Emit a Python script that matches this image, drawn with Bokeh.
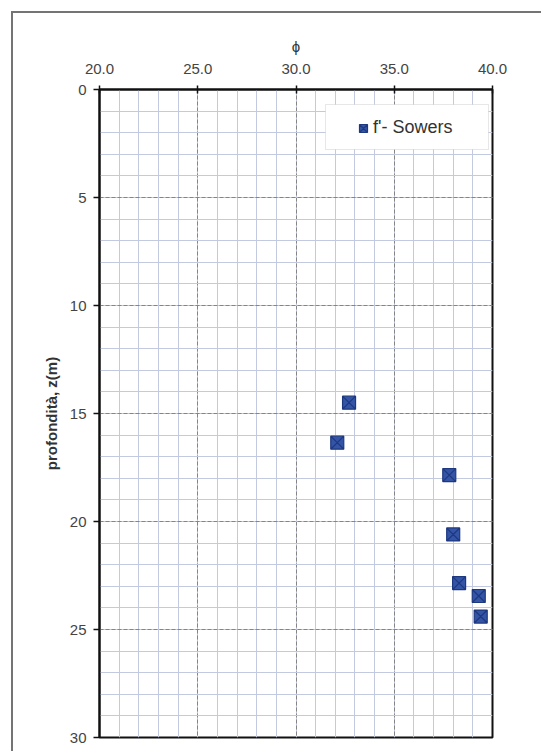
from bokeh.plotting import figure
from bokeh.models import Range1d, SingleIntervalTicker, Legend, LegendItem, NumeralTickFormatter, BoxAnnotation
from bokeh.embed import file_html
from bokeh.resources import INLINE

# data
phi = [32.7, 32.1, 37.8, 38.0, 38.3, 39.3, 39.4]
depth = [14.5, 16.35, 17.85, 20.6, 22.85, 23.45, 24.4]
series_name = "f'- Sowers"
x_label = "ϕ"
y_label = "profondità, z(m)"

FONT = "Liberation Sans"

# canvas / frame placement (canvas pixels)
W, H = 530, 740
BL, BR, BT, BB = 86, 51, 76, 16
FH = H - BT - BB

p = figure(width=W, height=H, output_backend="svg", toolbar_location=None,
           x_range=Range1d(20, 40), y_range=Range1d(30, 0),
           x_axis_location="above", min_border_left=BL, min_border_right=BR,
           min_border_top=BT, min_border_bottom=BB)
# outer frame of the chart (left and top edges visible in the reference)
p.styles = {"border-left": "2px solid #747474", "border-top": "2px solid #747474",
            "margin-left": "11px", "margin-top": "11px"}
p.background_fill_color = "white"
p.border_fill_color = "white"
p.outline_line_color = "#111111"
p.outline_line_width = 2

xt = SingleIntervalTicker(interval=5, num_minor_ticks=5)
yt = SingleIntervalTicker(interval=5, num_minor_ticks=5)
p.xaxis.ticker = xt
p.yaxis.ticker = yt
p.xgrid.ticker = xt
p.ygrid.ticker = yt
p.xaxis.formatter = NumeralTickFormatter(format="0.0")

for g in (p.xgrid, p.ygrid):
    g.grid_line_color = "#858585"
    g.grid_line_dash = "4 2"
    g.grid_line_width = 1
    g.minor_grid_line_color = "#c3c9de"
    g.minor_grid_line_width = 1

for ax in (p.xaxis, p.yaxis):
    ax.axis_line_color = "#111111"
    ax.axis_line_width = 2
    ax.major_tick_line_color = "#111111"
    ax.major_tick_line_width = 1.5
    ax.minor_tick_line_color = None
    ax.major_label_text_font = FONT
    ax.major_label_text_font_size = "15px"
    ax.major_label_text_color = "#444444"
    ax.axis_label_text_font = FONT
    ax.axis_label_text_color = "#333333"

p.xaxis.major_tick_out = 4
p.xaxis.major_tick_in = 4
p.xaxis.major_label_standoff = 12
p.xaxis.axis_label = x_label
p.xaxis.axis_label_text_font_size = "15px"
p.xaxis.axis_label_text_font_style = "normal"
p.xaxis.axis_label_standoff = 6

p.yaxis.major_tick_out = 6
p.yaxis.major_tick_in = 0
p.yaxis.major_label_standoff = 7
p.yaxis.axis_label = y_label
p.yaxis.axis_label_text_font_size = "15px"
p.yaxis.axis_label_text_font_style = "bold"
p.yaxis.axis_label_standoff = 7

r = p.scatter(phi, depth, marker="square_x", size=13, fill_color="#3454a6",
              line_color="#1e3880", line_width=1.2)

# legend frame (screen units, relative to the plot frame's bottom-left corner)
lbox = BoxAnnotation(left=226, right=389, top=633, bottom=588,
                     left_units="screen", right_units="screen",
                     top_units="screen", bottom_units="screen",
                     fill_color="white", fill_alpha=1, line_color="#b0b0b0", line_width=1,
                     level="overlay")
p.add_layout(lbox)

legend = Legend(items=[LegendItem(label=series_name, renderers=[r])],
                location=(254, 599), padding=0, glyph_width=20, glyph_height=20,
                label_standoff=0, label_height=20, border_line_color=None,
                background_fill_alpha=0,
                label_text_font=FONT, label_text_font_size="18px",
                label_text_color="#333333")
p.add_layout(legend)

open("out.html", "w").write(file_html(p, INLINE))
